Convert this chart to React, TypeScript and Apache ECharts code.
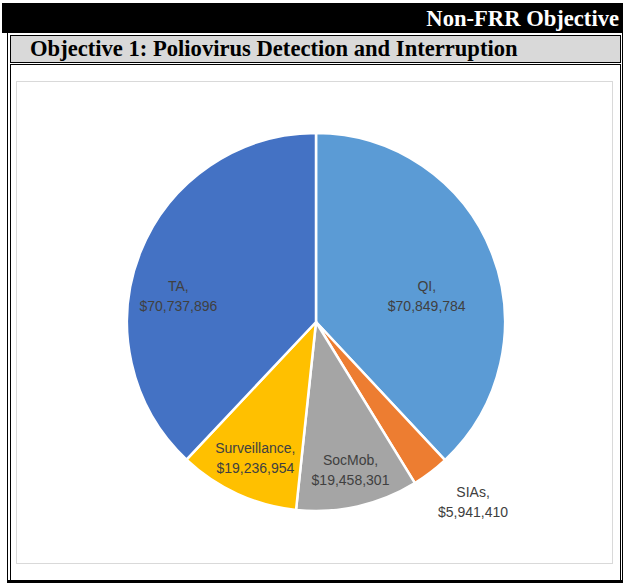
import React, { useEffect, useRef } from "react";
import * as echarts from "echarts";

const categories = ["QI", "SIAs", "SocMob", "Surveillance", "TA"];
const amounts = [70849784, 5941410, 19458301, 19236954, 70737896];
const sliceColors = ["#5B9BD5", "#ED7D31", "#A5A5A5", "#FFC000", "#4472C4"];
const headerRight = "Non-FRR Objective";
const headerTitle = "Objective 1: Poliovirus Detection and Interruption";

// label nudges from the library's default inside position (style, not data)
const labelNudge: Record<string, [number, number]> = {
  QI: [20, 10],
  SIAs: [98, 102],
  SocMob: [13, 53],
  Surveillance: [-20, 47],
  TA: [-47, 10],
};

const serif = '"Liberation Serif", "Times New Roman", serif';

export default function App() {
  const ref = useRef<HTMLDivElement>(null);

  useEffect(() => {
    if (!ref.current) return;
    const chart = echarts.init(ref.current, undefined, { renderer: "svg" });
    chart.setOption({
      animation: false,
      series: [
        {
          type: "pie",
          center: [299, 240],
          radius: [0, 189],
          startAngle: 90,
          clockwise: true,
          avoidLabelOverlap: false,
          silent: true,
          itemStyle: { borderColor: "#ffffff", borderWidth: 2.5 },
          label: {
            show: true,
            position: "inside",
            fontFamily: '"Liberation Sans", Arial, sans-serif',
            fontSize: 14,
            lineHeight: 20,
            color: "#404040",
            align: "center",
            formatter: (p: any) =>
              `${p.name},\n$${Number(p.value).toLocaleString("en-US")}`,
          },
          labelLine: { show: false },
          labelLayout: (params: any) => {
            const name = categories[params.dataIndex];
            const n = labelNudge[name] || [0, 0];
            return { dx: n[0], dy: n[1] };
          },
          data: categories.map((c, i) => ({
            name: c,
            value: amounts[i],
            itemStyle: { color: sliceColors[i] },
          })),
        },
      ],
    });
    return () => chart.dispose();
  }, []);

  return (
    <div
      style={{
        position: "absolute",
        left: 0,
        top: 0,
        width: 623,
        height: 585,
        background: "#ffffff",
        overflow: "hidden",
      }}
    >
      {/* black header */}
      <div
        style={{
          position: "absolute",
          left: 2,
          top: 3,
          width: 621,
          height: 30,
          background: "#000000",
          color: "#ffffff",
          fontFamily: serif,
          fontWeight: "bold",
          fontSize: 22.6,
          lineHeight: "32px",
          textAlign: "right",
          paddingRight: 4,
          boxSizing: "border-box",
          whiteSpace: "nowrap",
          overflow: "hidden",
        }}
      >
        {headerRight}
      </div>
      {/* outer frame */}
      <div
        style={{
          position: "absolute",
          left: 7,
          top: 33,
          width: 616,
          height: 550,
          borderLeft: "1.5px solid #000",
          borderRight: "1.5px solid #000",
          borderBottom: "3px solid #000",
          boxSizing: "border-box",
        }}
      />
      {/* gray title bar */}
      <div
        style={{
          position: "absolute",
          left: 10,
          top: 35,
          width: 611,
          height: 28,
          background: "#D9D9D9",
          border: "1.5px solid #000",
          boxSizing: "border-box",
          fontFamily: serif,
          fontWeight: "bold",
          fontSize: 22.6,
          lineHeight: "25px",
          paddingLeft: 19,
          color: "#000",
          whiteSpace: "nowrap",
          overflow: "hidden",
        }}
      >
        {headerTitle}
      </div>
      {/* lower box */}
      <div
        style={{
          position: "absolute",
          left: 10,
          top: 64,
          width: 611,
          height: 517,
          border: "1.5px solid #000",
          boxSizing: "border-box",
        }}
      />
      {/* chart area border */}
      <div
        style={{
          position: "absolute",
          left: 16,
          top: 81,
          width: 597,
          height: 483,
          border: "1px solid #D9D9D9",
          boxSizing: "border-box",
        }}
      />
      <div
        ref={ref}
        style={{ position: "absolute", left: 17, top: 82, width: 595, height: 481 }}
      />
    </div>
  );
}
